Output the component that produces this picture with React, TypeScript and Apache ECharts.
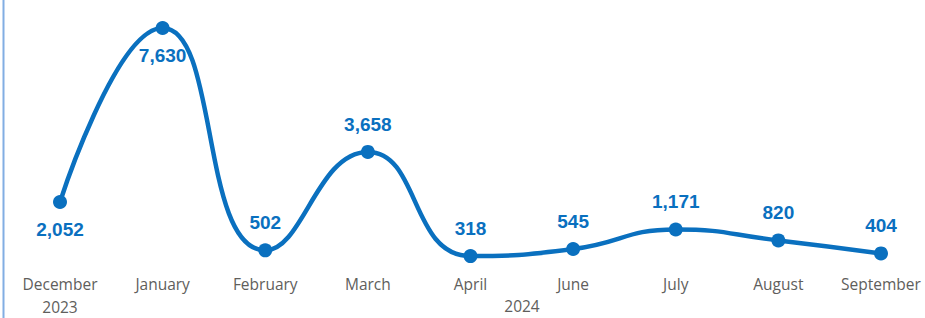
import React, { useEffect, useRef } from "react";
import * as echarts from "echarts";

const categories = ["December", "January", "February", "March", "April", "June", "July", "August", "September"];
const yearLabels = ["2023", "", "", "", "", "", "", "", ""];
const values = [2052, 7630, 502, 3658, 318, 545, 1171, 820, 404];
const labelPositions = ["bottom", "bottom", "top", "top", "top", "top", "top", "top", "top"];
const groupYear = "2024";

export default function App() {
  const ref = useRef<HTMLDivElement>(null);
  useEffect(() => {
    const chart = echarts.init(ref.current!, null, { renderer: "svg" });
    chart.setOption({
      animation: false,
      grid: { left: 60, right: 44, top: 28, bottom: 49, containLabel: false },
      xAxis: {
        type: "category",
        data: categories,
        boundaryGap: false,
        axisLine: { show: false },
        axisTick: { show: false },
        axisLabel: {
          color: "#605e5c",
          fontFamily: "Open Sans",
          fontSize: 15.5,
          lineHeight: 23,
          margin: 6,
          interval: 0,
          formatter: (v: string, i: number) => (yearLabels[i] ? v + "\n" + yearLabels[i] : v),
        },
      },
      yAxis: {
        type: "value",
        min: 0,
        max: 7630,
        show: false,
        splitLine: { show: false },
      },
      graphic: [
        {
          type: "line",
          shape: { x1: 3.5, y1: 0, x2: 3.5, y2: 318 },
          style: { stroke: "#82aee3", lineWidth: 2 },
        },
        {
          type: "text",
          x: 522,
          y: 306,
          style: {
            text: groupYear,
            fill: "#605e5c",
            font: "15.5px 'Open Sans'",
            align: "center",
            verticalAlign: "middle",
          },
        },
      ],
      series: [
        {
          type: "line",
          data: values.map((v, i) => ({
            value: v,
            label: { position: labelPositions[i] },
          })),
          smooth: 0.5,
          symbol: "circle",
          symbolSize: 14,
          lineStyle: { color: "#0a70bf", width: 4.5 },
          itemStyle: { color: "#0a70bf" },
          label: {
            show: true,
            color: "#0a70bf",
            fontFamily: "Liberation Sans",
            fontWeight: "bold",
            fontSize: 19,
            distance: 11,
            formatter: (p: any) => p.value.toLocaleString("en-US"),
          },
        },
      ],
    });
    return () => chart.dispose();
  }, []);
  return <div ref={ref} style={{ width: 925, height: 318, position: "absolute", left: 0, top: 0 }} />;
}
